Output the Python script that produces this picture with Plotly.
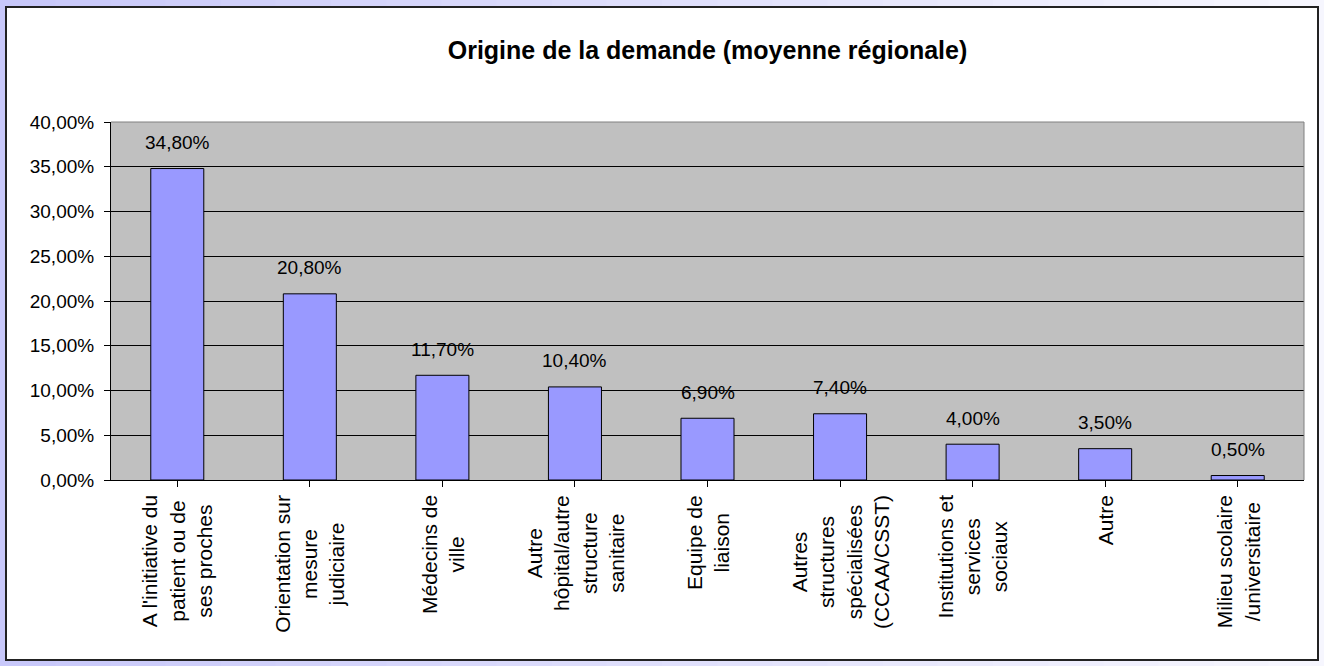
import plotly.graph_objects as go

# Données (moyenne régionale)
categories = [
    "A l'initiative du<br>patient ou de<br>ses proches",
    "Orientation sur<br>mesure<br>judiciaire",
    "Médecins de<br>ville",
    "Autre<br>hôpital/autre<br>structure<br>sanitaire",
    "Equipe de<br>liaison",
    "Autres<br>structures<br>spécialisées<br>(CCAA/CSST)",
    "Institutions et<br>services<br>sociaux",
    "Autre",
    "Milieu scolaire<br>/universitaire",
]
valeurs = [0.348, 0.208, 0.117, 0.104, 0.069, 0.074, 0.040, 0.035, 0.005]
etiquettes = ["34,80%", "20,80%", "11,70%", "10,40%", "6,90%", "7,40%", "4,00%", "3,50%", "0,50%"]

W, H = 1324, 666
ML, MR, MT, MB = 111, 20, 122, 186
pw, ph = W - ML - MR, H - MT - MB
police = "Arial, Liberation Sans"


def px(x):
    # pixels -> coordonnées papier
    return (x - ML) / pw


def py(y):
    return (H - MB - y) / ph


fig = go.Figure(
    go.Bar(
        x=list(range(len(categories))),
        y=valeurs,
        width=0.4,
        marker=dict(color="#9999FF", line=dict(color="black", width=1)),
        hoverinfo="skip",
    )
)

shapes = []
# fond dégradé lavande
n = 24
for i in range(n):
    t = i / (n - 1)
    r = int(200 + (246 - 200) * t)
    g = int(200 + (246 - 200) * t)
    b = int(250 + (254 - 250) * t)
    shapes.append(dict(type="rect", xref="paper", yref="paper", layer="below",
                       x0=px(W * i / n), x1=px(W * (i + 1) / n + 1), y0=py(H), y1=py(0),
                       fillcolor=f"rgb({r},{g},{b})", line_width=0))
# zone du graphique (blanc, bord noir)
shapes.append(dict(type="rect", xref="paper", yref="paper", layer="below",
                   x0=px(6), x1=px(1318), y0=py(660), y1=py(7),
                   fillcolor="white", line=dict(color="#222222", width=2)))
# fond gris de la zone de traçage
shapes.append(dict(type="rect", xref="x domain", yref="y domain", layer="below",
                   x0=0, x1=1, y0=0, y1=1, fillcolor="#C0C0C0", line_width=0))
# bords haut et droit gris
shapes.append(dict(type="line", xref="x domain", yref="y domain", x0=0, x1=1, y0=1, y1=1,
                   line=dict(color="#808080", width=1)))
shapes.append(dict(type="line", xref="x domain", yref="y domain", x0=1, x1=1, y0=0, y1=1,
                   line=dict(color="#808080", width=1)))

annotations = []
for i, (v, t) in enumerate(zip(valeurs, etiquettes)):
    annotations.append(dict(x=i, y=v, xref="x", yref="y", text=t, showarrow=False,
                            yanchor="middle", yshift=26,
                            font=dict(family=police, size=19, color="black")))
for i, c in enumerate(categories):
    annotations.append(dict(x=i, y=0, xref="x", yref="paper", text=c, showarrow=False,
                            textangle=-90, yanchor="top", xanchor="center", align="center",
                            yshift=-14, borderpad=0,
                            font=dict(family=police, size=21, color="black")))

fig.update_layout(
    width=W, height=H,
    margin=dict(l=ML, r=MR, t=MT, b=MB),
    paper_bgcolor="white",
    plot_bgcolor="#C0C0C0",
    separators=", ",
    showlegend=False,
    title=dict(text="<b>Origine de la demande (moyenne régionale)</b>",
               x=0.5, xref="paper", xanchor="center",
               y=1 - 50 / H, yanchor="middle",
               font=dict(family=police, size=25, color="black")),
    xaxis=dict(range=[-0.5, len(categories) - 0.5], tickmode="array",
               tickvals=list(range(len(categories))), tickson="boundaries",
               ticks="outside", ticklen=6, tickcolor="black", showticklabels=False,
               showline=True, linecolor="black", linewidth=1, showgrid=False, zeroline=False),
    yaxis=dict(range=[0, 0.4], dtick=0.05, tickformat=".2%",
               ticks="outside", ticklen=6, tickcolor="black", ticklabelstandoff=6,
               showline=True, linecolor="black", linewidth=1,
               showgrid=True, gridcolor="black", gridwidth=1, zeroline=False,
               tickfont=dict(family=police, size=19, color="black")),
    shapes=shapes,
    annotations=annotations,
)

# la page a une marge de 8px par défaut : on la supprime
fig.write_html("out.html", config={"displayModeBar": False},
               post_script="document.body.style.margin='0';")
